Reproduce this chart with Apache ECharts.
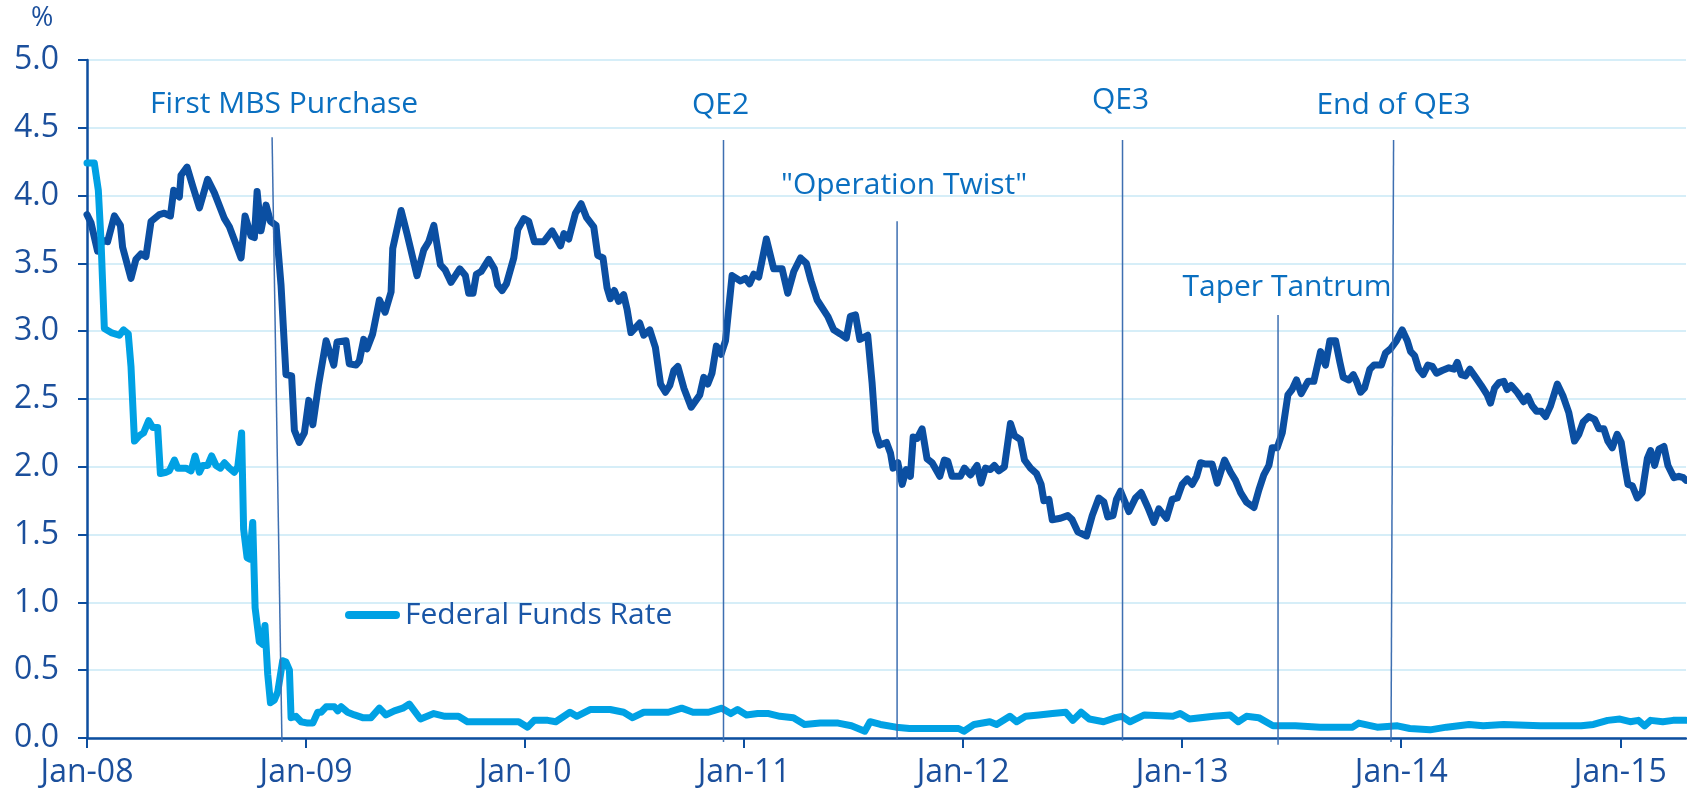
<!DOCTYPE html>
<html>
<head>
<meta charset="utf-8">
<title>10-year yield and Fed policy</title>
<script src="https://cdn.jsdelivr.net/npm/echarts@6.0.0/dist/echarts.min.js"></script>
<style>
  html, body { margin: 0; padding: 0; background: #fff; }
  #chart { width: 1687px; height: 792px; }
</style>
</head>
<body>
<div id="chart"></div>
<script>
// x is counted in months from Jan 2008
const xTickMonths = [0, 12, 24, 36, 48, 60, 72, 84];
const xTickLabels = ['Jan-08', 'Jan-09', 'Jan-10', 'Jan-11', 'Jan-12', 'Jan-13', 'Jan-14', 'Jan-15'];

// 10-year treasury yield, [month, %]
const treasury10y = [
  [0, 3.86], [0.22, 3.80], [0.58, 3.59], [0.86, 3.67], [1.13, 3.66], [1.5, 3.85], [1.83, 3.78], [1.95, 3.62],
  [2.41, 3.39], [2.68, 3.53], [2.96, 3.57], [3.23, 3.55], [3.51, 3.81], [3.96, 3.86], [4.24, 3.87], [4.57, 3.85],
  [4.75, 4.04], [5.06, 3.99], [5.15, 4.15], [5.48, 4.21], [5.79, 4.07], [6.16, 3.91], [6.61, 4.12], [6.98, 4.02],
  [7.53, 3.83], [7.8, 3.77], [8.11, 3.66], [8.44, 3.54], [8.66, 3.85], [8.99, 3.70], [9.17, 3.69], [9.32, 4.03],
  [9.53, 3.74], [9.81, 3.93], [10.05, 3.81], [10.36, 3.78], [10.63, 3.34], [10.9, 2.68], [11.21, 2.67], [11.36, 2.27],
  [11.63, 2.18], [11.91, 2.25], [12.15, 2.49], [12.37, 2.31], [12.68, 2.60], [13.1, 2.93], [13.52, 2.75], [13.7, 2.92],
  [14.19, 2.93], [14.37, 2.76], [14.74, 2.75], [14.92, 2.78], [15.16, 2.94], [15.34, 2.87], [15.65, 2.98], [16.02, 3.23],
  [16.33, 3.14], [16.66, 3.29], [16.75, 3.61], [17.21, 3.89], [17.53, 3.72], [18.08, 3.41], [18.45, 3.60], [18.72, 3.66],
  [19.0, 3.78], [19.36, 3.49], [19.63, 3.45], [19.94, 3.36], [20.42, 3.46], [20.73, 3.41], [20.91, 3.28], [21.15, 3.28],
  [21.33, 3.42], [21.59, 3.44], [22.01, 3.53], [22.32, 3.46], [22.5, 3.34], [22.74, 3.30], [22.98, 3.35], [23.38, 3.54],
  [23.6, 3.75], [23.93, 3.83], [24.2, 3.81], [24.51, 3.66], [25.03, 3.66], [25.48, 3.74], [25.94, 3.63], [26.13, 3.72],
  [26.39, 3.68], [26.76, 3.87], [27.07, 3.94], [27.36, 3.84], [27.76, 3.77], [27.98, 3.56], [28.27, 3.54], [28.49, 3.32],
  [28.67, 3.24], [28.89, 3.30], [29.13, 3.22], [29.4, 3.27], [29.59, 3.16], [29.8, 2.99], [30.28, 3.06], [30.5, 2.97],
  [30.83, 3.01], [31.14, 2.88], [31.42, 2.61], [31.69, 2.55], [31.93, 2.60], [32.15, 2.71], [32.37, 2.74], [32.7, 2.58],
  [33.1, 2.44], [33.57, 2.53], [33.79, 2.66], [34.01, 2.61], [34.24, 2.69], [34.48, 2.89], [34.74, 2.83], [34.98, 2.93],
  [35.34, 3.41], [35.8, 3.37], [36.07, 3.39], [36.3, 3.35], [36.53, 3.42], [36.8, 3.40], [37.22, 3.68], [37.62, 3.46],
  [38.08, 3.46], [38.39, 3.28], [38.72, 3.44], [39.09, 3.54], [39.41, 3.50], [39.67, 3.37], [40.0, 3.23], [40.58, 3.11],
  [40.91, 3.01], [41.27, 2.98], [41.6, 2.95], [41.82, 3.11], [42.1, 3.12], [42.34, 2.94], [42.77, 2.97], [43.01, 2.62],
  [43.2, 2.26], [43.43, 2.16], [43.8, 2.18], [44.02, 2.10], [44.16, 1.99], [44.42, 2.03], [44.66, 1.87], [44.88, 1.98],
  [45.11, 1.93], [45.26, 2.22], [45.48, 2.21], [45.75, 2.28], [46.02, 2.06], [46.3, 2.03], [46.72, 1.93], [46.97, 2.05],
  [47.16, 2.04], [47.39, 1.93], [47.85, 1.93], [48.07, 1.99], [48.4, 1.94], [48.76, 2.01], [48.98, 1.88], [49.22, 1.99],
  [49.49, 1.98], [49.71, 2.01], [49.95, 1.97], [50.26, 2.00], [50.59, 2.32], [50.81, 2.23], [51.14, 2.20], [51.36, 2.05],
  [51.69, 1.99], [52.02, 1.95], [52.27, 1.87], [52.42, 1.75], [52.7, 1.76], [52.88, 1.61], [53.33, 1.62], [53.73, 1.64],
  [53.97, 1.61], [54.28, 1.52], [54.76, 1.49], [55.07, 1.64], [55.43, 1.77], [55.71, 1.74], [55.92, 1.63], [56.21, 1.64],
  [56.4, 1.76], [56.62, 1.82], [57.08, 1.67], [57.44, 1.77], [57.75, 1.81], [58.12, 1.70], [58.45, 1.59], [58.72, 1.69],
  [59.14, 1.62], [59.45, 1.76], [59.73, 1.77], [60.0, 1.87], [60.28, 1.91], [60.55, 1.87], [60.79, 1.93], [61.0, 2.03],
  [61.28, 2.02], [61.64, 2.02], [61.92, 1.88], [62.32, 2.05], [62.65, 1.96], [62.92, 1.90], [63.2, 1.81], [63.52, 1.74],
  [63.93, 1.70], [64.2, 1.83], [64.47, 1.94], [64.75, 2.01], [64.93, 2.14], [65.2, 2.14], [65.48, 2.25], [65.79, 2.53],
  [66.02, 2.57], [66.26, 2.64], [66.52, 2.54], [66.89, 2.63], [67.21, 2.63], [67.58, 2.85], [67.85, 2.75], [68.09, 2.93],
  [68.4, 2.93], [68.64, 2.77], [68.82, 2.66], [69.13, 2.64], [69.37, 2.68], [69.55, 2.63], [69.77, 2.55], [69.99, 2.58],
  [70.28, 2.72], [70.51, 2.75], [70.91, 2.75], [71.14, 2.84], [71.42, 2.87], [71.74, 2.93], [72.05, 3.01], [72.33, 2.93],
  [72.51, 2.85], [72.73, 2.82], [72.96, 2.72], [73.2, 2.68], [73.46, 2.75], [73.7, 2.74], [73.93, 2.69], [74.24, 2.71],
  [74.61, 2.73], [74.89, 2.72], [75.07, 2.77], [75.29, 2.68], [75.52, 2.67], [75.76, 2.72], [76.07, 2.66], [76.38, 2.60],
  [76.71, 2.53], [76.89, 2.47], [77.11, 2.58], [77.35, 2.62], [77.62, 2.63], [77.8, 2.57], [78.02, 2.60], [78.35, 2.55],
  [78.71, 2.48], [78.93, 2.52], [79.17, 2.45], [79.41, 2.41], [79.67, 2.41], [79.91, 2.37], [80.18, 2.45], [80.55, 2.61],
  [80.87, 2.52], [81.18, 2.40], [81.49, 2.19], [81.73, 2.24], [81.97, 2.33], [82.28, 2.37], [82.59, 2.35], [82.83, 2.28],
  [83.1, 2.28], [83.32, 2.19], [83.56, 2.14], [83.83, 2.24], [84.05, 2.18], [84.24, 2.01], [84.42, 1.87], [84.66, 1.86],
  [84.93, 1.77], [85.2, 1.81], [85.48, 2.06], [85.66, 2.12], [85.88, 2.01], [86.12, 2.13], [86.39, 2.15], [86.61, 2.01],
  [86.94, 1.92], [87.21, 1.93], [87.45, 1.92], [87.6, 1.90]
];

// effective federal funds rate, [month, %]
const fedFunds = [
  [0, 4.24], [0.4, 4.24], [0.62, 4.04], [0.77, 3.66], [0.95, 3.02], [1.32, 2.99], [1.77, 2.97], [2.0, 3.01],
  [2.26, 2.98], [2.41, 2.74], [2.6, 2.19], [2.87, 2.23], [3.1, 2.25], [3.38, 2.34], [3.6, 2.29], [3.87, 2.29],
  [4.02, 1.95], [4.33, 1.96], [4.51, 1.97], [4.79, 2.05], [4.97, 1.99], [5.42, 1.99], [5.7, 1.97], [5.92, 2.08],
  [6.16, 1.96], [6.34, 2.01], [6.61, 2.01], [6.83, 2.08], [7.07, 2.01], [7.31, 1.99], [7.53, 2.03], [7.8, 1.99],
  [8.07, 1.96], [8.26, 2.00], [8.47, 2.25], [8.58, 1.54], [8.77, 1.33], [8.9, 1.32], [9.08, 1.59], [9.21, 0.96],
  [9.44, 0.71], [9.63, 0.69], [9.75, 0.83], [9.9, 0.47], [10.05, 0.26], [10.26, 0.28], [10.45, 0.34], [10.72, 0.57],
  [10.9, 0.56], [11.09, 0.50], [11.18, 0.15], [11.45, 0.16], [11.73, 0.12], [12.09, 0.11], [12.37, 0.11], [12.64, 0.19],
  [12.82, 0.19], [13.1, 0.23], [13.55, 0.23], [13.74, 0.20], [13.92, 0.23], [14.28, 0.19], [14.65, 0.17], [15.1, 0.15],
  [15.56, 0.15], [16.02, 0.22], [16.38, 0.17], [16.84, 0.20], [17.3, 0.22], [17.66, 0.25], [18.27, 0.14], [19.0, 0.18],
  [19.61, 0.16], [20.35, 0.16], [20.84, 0.12], [21.57, 0.12], [22.55, 0.12], [23.65, 0.12], [24.14, 0.08], [24.5, 0.13],
  [25.24, 0.13], [25.68, 0.12], [26.46, 0.19], [26.83, 0.16], [27.56, 0.21], [28.66, 0.21], [29.4, 0.19], [29.89, 0.15],
  [30.5, 0.19], [31.11, 0.19], [31.85, 0.19], [32.58, 0.22], [33.2, 0.19], [34.05, 0.19], [34.78, 0.22], [35.27, 0.18],
  [35.64, 0.21], [36.13, 0.17], [36.74, 0.18], [37.35, 0.18], [37.96, 0.16], [38.7, 0.15], [39.31, 0.10], [40.17, 0.11],
  [41.15, 0.11], [41.88, 0.09], [42.61, 0.05], [42.9, 0.12], [43.47, 0.10], [44.32, 0.08], [45.06, 0.07], [46.52, 0.07],
  [47.75, 0.07], [48.04, 0.05], [48.6, 0.10], [49.46, 0.12], [49.83, 0.10], [50.56, 0.16], [50.93, 0.12], [51.42, 0.16],
  [52.15, 0.17], [52.89, 0.18], [53.62, 0.19], [54.01, 0.13], [54.46, 0.19], [54.91, 0.14], [55.69, 0.12], [56.36, 0.15],
  [56.7, 0.16], [57.14, 0.12], [57.93, 0.17], [59.49, 0.16], [59.89, 0.18], [60.39, 0.14], [61.73, 0.16], [62.62, 0.17],
  [63.07, 0.12], [63.52, 0.16], [64.19, 0.15], [64.97, 0.09], [66.2, 0.09], [67.55, 0.08], [69.33, 0.08], [69.67, 0.11],
  [70.68, 0.08], [71.79, 0.09], [72.47, 0.07], [73.58, 0.06], [74.48, 0.08], [75.71, 0.10], [76.49, 0.09], [77.61, 0.10],
  [79.62, 0.09], [80.52, 0.09], [81.86, 0.09], [82.53, 0.10], [83.31, 0.13], [83.98, 0.14], [84.54, 0.12], [84.99, 0.13],
  [85.33, 0.09], [85.66, 0.13], [86.33, 0.12], [86.89, 0.13], [87.6, 0.13]
];

// policy events: vertical marker lines, [top end, bottom end] in data units
const eventNames = ['First MBS Purchase', 'QE2', '"Operation Twist"', 'QE3', 'Taper Tantrum', 'End of QE3'];
const eventTopMonth = [10.14, 34.87, 44.38, 56.73, 65.25, 71.58];
const eventBottomMonth = [10.68, 34.87, 44.38, 56.73, 65.25, 71.44];
const eventTop = [4.43, 4.41, 3.81, 4.41, 3.12, 4.41];
const eventBottom = [-0.03, -0.03, -0.01, -0.02, -0.05, -0.03];

// nudges for the event notes, px: [dx, gap above line]
const noteNudge = [[12, 18], [-3, 20], [7, 21], [-2, 25], [9, 12], [0, 20]];

const FONT = 'Open Sans';
const DARK = '#0b4fa2';
const LIGHT = '#00a1e4';
const AXIS = '#0d4e9f';
const LABEL = '#1b4f9c';
const NOTE = '#0a6fc0';

const chart = echarts.init(document.getElementById('chart'));

const eventSeries = eventNames.map(function (name, i) {
  return {
    type: 'line',
    name: name,
    silent: true,
    clip: false,
    z: 5,
    showSymbol: true,
    symbol: 'circle',
    symbolSize: 0.1,
    lineStyle: { color: '#3e6fb1', width: 1.5 },
    itemStyle: { color: '#3e6fb1' },
    emphasis: { disabled: true },
    data: [
      {
        value: [eventTopMonth[i], eventTop[i]],
        label: {
          show: true,
          position: 'top',
          formatter: name,
          distance: noteNudge[i][1],
          offset: [noteNudge[i][0], 0],
          color: NOTE,
          fontFamily: FONT,
          fontSize: 30
        }
      },
      [eventBottomMonth[i], eventBottom[i]]
    ]
  };
});

chart.setOption({
  animation: false,
  backgroundColor: '#fff',
  grid: { left: 87, right: 1, top: 60, bottom: 54 },
  legend: {
    data: ['Federal Funds Rate'],
    left: 345,
    top: 600,
    padding: 0,
    itemWidth: 55,
    itemHeight: 8,
    icon: 'path://M4,0 H51 A4,4 0 0 1 51,8 H4 A4,4 0 0 1 4,0 Z',
    textStyle: { color: '#1a56a6', fontFamily: FONT, fontSize: 30 }
  },
  graphic: [
    {
      type: 'text',
      left: 31,
      top: 5,
      style: { text: '%', fill: LABEL, font: '27px "Open Sans"' }
    }
  ],
  xAxis: {
    type: 'value',
    min: 0,
    max: 87.6,
    splitLine: { show: false },
    axisLine: { lineStyle: { color: AXIS, width: 2.5 } },
    axisTick: { customValues: xTickMonths, length: 10, lineStyle: { color: AXIS, width: 2 } },
    axisLabel: {
      customValues: xTickMonths,
      formatter: function (v) { return xTickLabels[xTickMonths.indexOf(v)] || ''; },
      color: LABEL,
      fontFamily: FONT,
      fontSize: 32,
      margin: 19
    }
  },
  yAxis: {
    type: 'value',
    min: 0,
    max: 5,
    interval: 0.5,
    axisLine: { show: true, lineStyle: { color: AXIS, width: 2.5 } },
    axisTick: { show: true, length: 9, lineStyle: { color: AXIS, width: 2 } },
    splitLine: { lineStyle: { color: '#c9e8f6', width: 1.5 } },
    axisLabel: {
      formatter: function (v) { return v.toFixed(1); },
      color: LABEL,
      fontFamily: FONT,
      fontSize: 32,
      margin: 28
    }
  },
  series: [
    {
      type: 'line',
      name: '10-Year Treasury',
      data: treasury10y,
      showSymbol: false,
      symbol: 'none',
      z: 3,
      lineStyle: { color: DARK, width: 7, cap: 'round', join: 'round' },
      itemStyle: { color: DARK }
    },
    {
      type: 'line',
      name: 'Federal Funds Rate',
      data: fedFunds,
      showSymbol: false,
      symbol: 'none',
      z: 4,
      lineStyle: { color: LIGHT, width: 7, cap: 'round', join: 'round' },
      itemStyle: { color: LIGHT }
    }
  ].concat(eventSeries)
});
</script>
</body>
</html>
